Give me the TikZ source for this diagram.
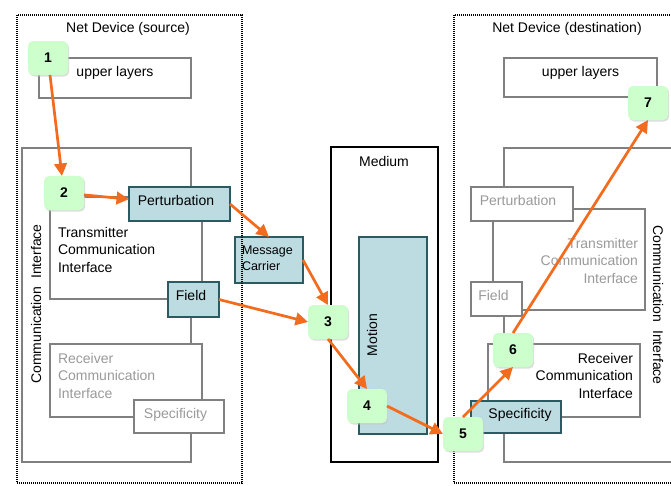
\documentclass[tikz,border=0pt]{standalone}
\usepackage{fontspec}
\setmainfont{Liberation Sans}
\usetikzlibrary{arrows.meta,shadows}
\definecolor{org}{HTML}{F36B1C}
\definecolor{bluef}{HTML}{BCDCE1}
\definecolor{blueb}{HTML}{2B5A63}
\definecolor{greenf}{HTML}{CCFFCC}
\definecolor{grayb}{HTML}{808080}
\definecolor{grayt}{HTML}{9A9A9A}
\begin{document}
\begin{tikzpicture}[x=1pt,y=-1pt,
  font=\fontsize{14}{17.5}\selectfont,
  box/.style={rectangle, inner sep=0pt, outer sep=0pt},
  graybox/.style={box, draw=grayb, line width=1.5pt, fill=white},
  bluebox/.style={box, draw=blueb, line width=1.6pt, fill=bluef},
  blackbox/.style={box, draw=black, line width=1.6pt, fill=white},
  dotbox/.style={box, draw=black, line width=1.4pt, dash pattern=on 1pt off 1pt},
  numnode/.style={box, fill=greenf, rounded corners=5pt, minimum width=40pt, minimum height=34pt,
     font=\fontsize{14}{17}\selectfont\bfseries,
     drop shadow={shadow xshift=1.2pt, shadow yshift=-1.5pt, fill=black!22, opacity=0.6}},
  txt/.style={inner sep=0pt, outer sep=0pt},
  gtxt/.style={txt, text=grayt},
  arr/.style={draw=org, line width=2.7pt, -{Triangle[length=12.5pt,width=12.5pt]}}
]
\useasboundingbox (0,0) rectangle (671,485);
\clip (0,0) rectangle (671,485);

% ---------- source device ----------
\node[graybox, minimum width=152pt, minimum height=40pt] (upL) at (115,78) {};
\node[txt, anchor=base] (upLt) at (115,76) {upper layers};
\node[graybox, minimum width=169pt, minimum height=314pt] (ciL) at (106.5,305) {};
\node[txt, rotate=90] (ciLt) at (36,304) {Communication\ \ Interface};
\node[graybox, minimum width=152pt, minimum height=102pt] (txL) at (126,248) {};
\node[txt, anchor=base west, align=left] (txLt) at (58,272) {Transmitter\\Communication\\Interface};
\node[bluebox, minimum width=101pt, minimum height=34pt] (pertL) at (179.5,204) {};
\node[txt, anchor=base] (pertLt) at (176,205) {Perturbation};
\node[bluebox, minimum width=51pt, minimum height=35pt] (fieldL) at (193.5,299.5) {};
\node[txt, anchor=base] (fieldLt) at (191,300) {Field};
\node[graybox, minimum width=152pt, minimum height=73pt] (rxL) at (126,380.5) {};
\node[gtxt, anchor=base west, align=left] (rxLt) at (58,398) {Receiver\\Communication\\Interface};
\node[graybox, minimum width=90pt, minimum height=33pt] (specL) at (179,416.5) {};
\node[gtxt, anchor=base] (specLt) at (175.5,418) {Specificity};

% ---------- message carrier ----------
\node[bluebox, minimum width=68pt, minimum height=46pt] (mc) at (269,260) {};
\node[txt, anchor=base west, align=left, font=\fontsize{12.5}{16}\selectfont] (mct) at (242,270) {Message\\Carrier};

% ---------- medium ----------
\node[blackbox, minimum width=107pt, minimum height=315pt] (med) at (384.5,304.5) {};
\node[txt, anchor=base] (medt) at (384,166) {Medium};
\node[bluebox, minimum width=68pt, minimum height=197pt] (mot) at (393,335.5) {};
\node[txt, rotate=90] (mott) at (372,335) {Motion};

% ---------- destination device ----------
\node[graybox, minimum width=153pt, minimum height=39pt] (upR) at (580.5,77.5) {};
\node[txt, anchor=base] (upRt) at (580.5,76) {upper layers};
\node[graybox, minimum width=216pt, minimum height=314pt] (ciR) at (612,305) {};
\node[txt, rotate=-90] (ciRt) at (658,305) {Communication\ \ Interface};
\node[graybox, minimum width=152pt, minimum height=101pt] (txR) at (569,259.5) {};
\node[gtxt, anchor=base east, align=right] (txRt) at (638,283) {Transmitter\\Communication\\Interface};
\node[graybox, minimum width=102pt, minimum height=34pt] (pertR) at (522,204) {};
\node[gtxt, anchor=base] (pertRt) at (518,205) {Perturbation};
\node[graybox, minimum width=51pt, minimum height=34pt] (fieldR) at (496.5,299) {};
\node[gtxt, anchor=base] (fieldRt) at (493.5,300) {Field};
\node[graybox, minimum width=152pt, minimum height=73pt] (rxR) at (564,380.5) {};
\node[txt, anchor=base east, align=right] (rxRt) at (633,398) {Receiver\\Communication\\Interface};
\node[bluebox, minimum width=90pt, minimum height=32pt] (specR) at (516,417) {};
\node[txt, anchor=base] (specRt) at (520,418) {Specificity};

% ---------- device frames ----------
\node[dotbox, minimum width=225pt, minimum height=468pt] (devL) at (129.5,249) {};
\node[txt, anchor=base] (devLt) at (128,32) {Net Device (source)};
\node[dotbox, minimum width=260pt, minimum height=468pt] (devR) at (584,249) {};
\node[txt, anchor=base] (devRt) at (567,32) {Net Device (destination)};

% ---------- step markers ----------
\node[numnode] (n1) at (48,58) {1};
\node[numnode] (n2) at (64,193) {2};
\node[numnode] (n3) at (328,322) {3};
\node[numnode] (n4) at (367,406) {4};
\node[numnode] (n5) at (463,434) {5};
\node[numnode] (n6) at (513,350) {6};
\node[numnode] (n7) at (648,103) {7};

% ---------- arrows ----------
\draw[arr] (n1) -- (n2);
\draw[arr] (n2) -- (pertL);
\draw[arr] (pertL.east) -- (mc.north);
\draw[arr] (mc.east) -- (n3.north);
\draw[arr] (fieldL.east) -- (n3.west);
\draw[arr] (n3.south) -- (n4.north);
\draw[arr] (n4.east) -- (n5.west);
\draw[arr] (n5.north) -- (n6.south);
\draw[arr] (n6.north) -- (n7.south);
\end{tikzpicture}
\end{document}
